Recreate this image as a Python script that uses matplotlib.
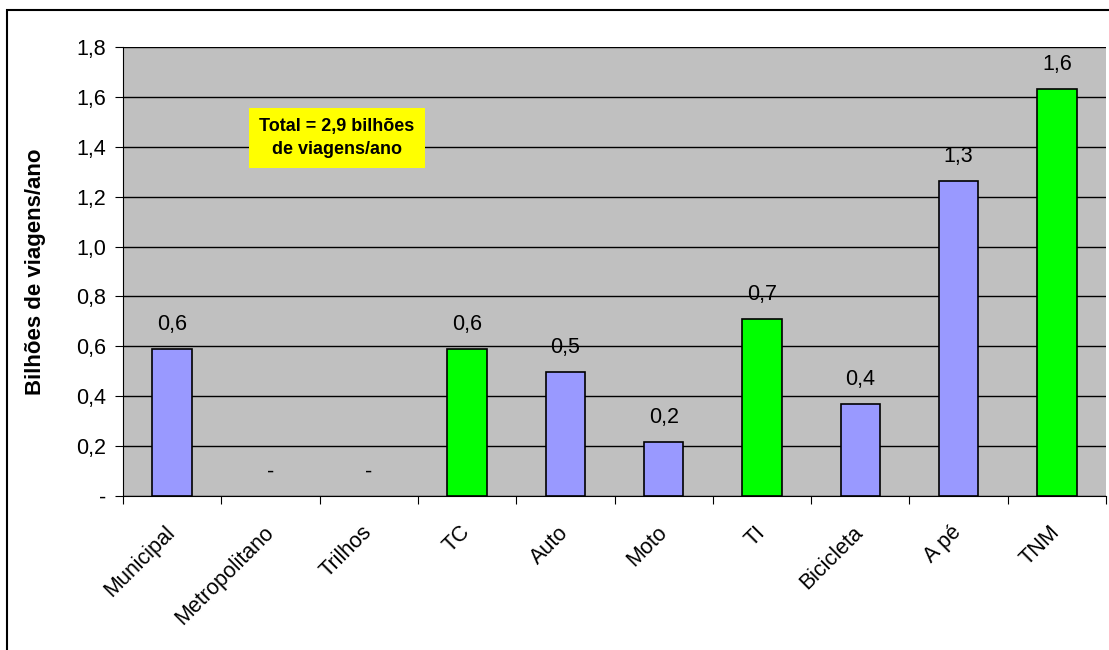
import matplotlib.pyplot as plt
from matplotlib.patches import Rectangle

plt.rcParams['font.family'] = ['Liberation Sans', 'DejaVu Sans']

# data
categorias = ['Municipal', 'Metropolitano', 'Trilhos', 'TC', 'Auto', 'Moto', 'TI', 'Bicicleta', 'A pé', 'TNM']
valores = [0.59, 0.0, 0.0, 0.59, 0.497, 0.217, 0.71, 0.369, 1.263, 1.632]
rotulos = ['0,6', '-', '-', '0,6', '0,5', '0,2', '0,7', '0,4', '1,3', '1,6']
totais = ['TC', 'TI', 'TNM']
y_ticks = [0, 0.2, 0.4, 0.6, 0.8, 1.0, 1.2, 1.4, 1.6, 1.8]
y_labels = ['-', '0,2', '0,4', '0,6', '0,8', '1,0', '1,2', '1,4', '1,6', '1,8']

cores = ['#00FF00' if c in totais else '#9999FF' for c in categorias]
bordas = [1.2 if v > 0 else 0 for v in valores]

fig = plt.figure(figsize=(11.09, 6.5), dpi=100)
ax = fig.add_axes([123 / 1109, 1 - 496 / 650, (1106 - 123) / 1109, (496 - 47) / 650])
ax.set_facecolor('#C0C0C0')

x = list(range(len(categorias)))
ax.bar(x, valores, width=0.4, color=cores, edgecolor='black', linewidth=bordas, zorder=3)
for xi, v, r in zip(x, valores, rotulos):
    ax.text(xi, v + 0.055, r, ha='center', va='bottom', fontsize=15.5)

ax.set_xlim(-0.5, len(categorias) - 0.5)
ax.set_ylim(0, 1.8)
ax.set_yticks(y_ticks)
ax.set_yticklabels(y_labels, fontsize=15.5)
ax.yaxis.grid(True, color='black', linewidth=1)
ax.set_axisbelow(True)

ax.set_xticks([i + 0.5 for i in range(-1, len(categorias))], minor=False)
ax.set_xticklabels([])
ax.set_xticks(x, minor=True)
ax.set_xticklabels(categorias, minor=True, rotation=45, ha='right', va='center',
                   rotation_mode='anchor', fontsize=15.5)
ax.tick_params(axis='x', which='minor', length=0, pad=24)
ax.tick_params(axis='x', which='major', length=6, color='black')
ax.tick_params(axis='y', length=6, pad=6)

for s in ['top', 'right']:
    ax.spines[s].set_visible(False)
ax.spines['left'].set_color('black')
ax.spines['bottom'].set_color('black')

ax.set_ylabel('Bilhões de viagens/ano', fontsize=16, fontweight='bold', labelpad=22)

ax.text(0.2177, 0.797, 'Total = 2,9 bilhões\nde viagens/ano', transform=ax.transAxes,
        ha='center', va='center', fontsize=13, fontweight='bold', linespacing=1.45,
        bbox=dict(boxstyle='square,pad=0.55', facecolor='#FFFF00', edgecolor='none'), zorder=4)

# borda da figura
fig.patches.append(Rectangle((7 / 1109, -0.1), 1.2, 1 - 10 / 650 + 0.1, transform=fig.transFigure,
                             fill=False, edgecolor='black', linewidth=1.5))

plt.savefig('out.png', dpi=100)
